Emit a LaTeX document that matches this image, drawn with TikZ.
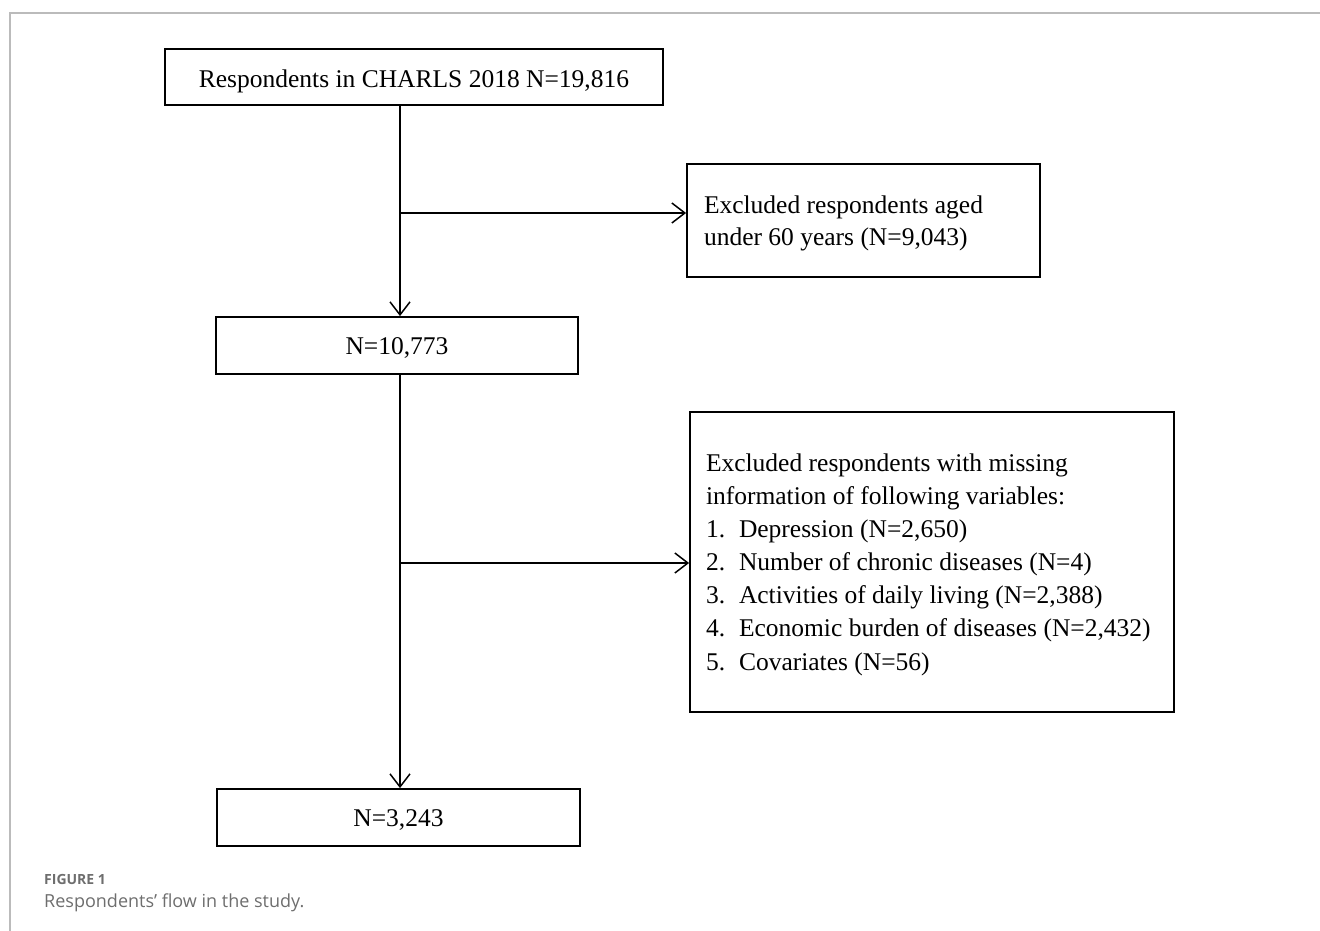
\documentclass[tikz,border=0pt]{standalone}
\usepackage{fontspec}
\setmainfont{Liberation Serif}
\newfontfamily\capfont{Open Sans}
\usetikzlibrary{arrows.meta}
\definecolor{framegrey}{HTML}{BBBBBB}
\definecolor{capgrey}{HTML}{6E6E6E}
% place text so that its (first) baseline sits #1 above the node centre
\newcommand{\atbase}[2]{\raisebox{#1}[0pt][0pt]{#2}}
\newcommand{\parat}[4]{\raisebox{#1}[0pt][0pt]{\parbox[t]{#2}{\fontsize{25.5}{#3}\selectfont\raggedright #4}}}
\begin{document}
\begin{tikzpicture}[x=1pt,y=-1pt,
  box/.style={draw=black,line width=1.8pt,rectangle,inner sep=0pt,
    font=\fontsize{25.5}{33.1}\selectfont},
  conn/.style={draw=black,line width=1.5pt},
  arr/.style={conn,-{Straight Barb[length=13pt,width=20pt,line width=1.5pt]}}]
\useasboundingbox (0,0) rectangle (1320,931);
\fill[white] (0,0) rectangle (1320,931);
\draw[framegrey,line width=1.6pt] (10,931) -- (10,13) -- (1320,13);
% boxes
\node[box,minimum width=498pt,minimum height=56pt] (b1) at (414,77)
  {\atbase{-10.3pt}{Respondents in CHARLS 2018 N=19,816}};
\node[box,minimum width=353pt,minimum height=113pt] (b3) at (863.5,220.5)
  {\parat{7.2pt}{319pt}{31.7pt}{Excluded respondents aged\\under 60 years (N=9,043)}};
\node[box,minimum width=362pt,minimum height=57pt] (b2) at (397,345.5)
  {\atbase{-8.5pt}{N=10,773}};
\node[box,minimum width=484pt,minimum height=300pt] (b4) at (932,562)
  {\parat{90.3pt}{452pt}{33.05pt}{Excluded respondents with missing\\information of following variables:\\
   \makebox[33pt][l]{1.}Depression (N=2,650)\\
   \makebox[33pt][l]{2.}Number of chronic diseases (N=4)\\
   \makebox[33pt][l]{3.}Activities of daily living (N=2,388)\\
   \makebox[33pt][l]{4.}Economic burden of diseases (N=2,432)\\
   \makebox[33pt][l]{5.}Covariates (N=56)}};
\node[box,minimum width=363pt,minimum height=57pt] (b5) at (398.5,817.5)
  {\atbase{-8.5pt}{N=3,243}};
% junctions
\coordinate (j1) at (400,213);
\coordinate (j2) at (400,563);
\draw[arr] (b1.south -| j1) -- (b2.north -| j1);
\draw[arr] (j1) -- (j1 -| b3.west);
\draw[arr] (b2.south -| j2) -- (b5.north -| j2);
\draw[arr] (j2) -- (j2 -| b4.west);
% caption
\node[anchor=base west,inner sep=0pt,text=capgrey,font=\capfont\bfseries\fontsize{14}{16}\selectfont] (cap1) at (44,884) {FIGURE 1};
\node[anchor=base west,inner sep=0pt,text=capgrey,font=\capfont\fontsize{18}{22}\selectfont] (cap2) at (44,907) {Respondents’ flow in the study.};
\end{tikzpicture}
\end{document}
